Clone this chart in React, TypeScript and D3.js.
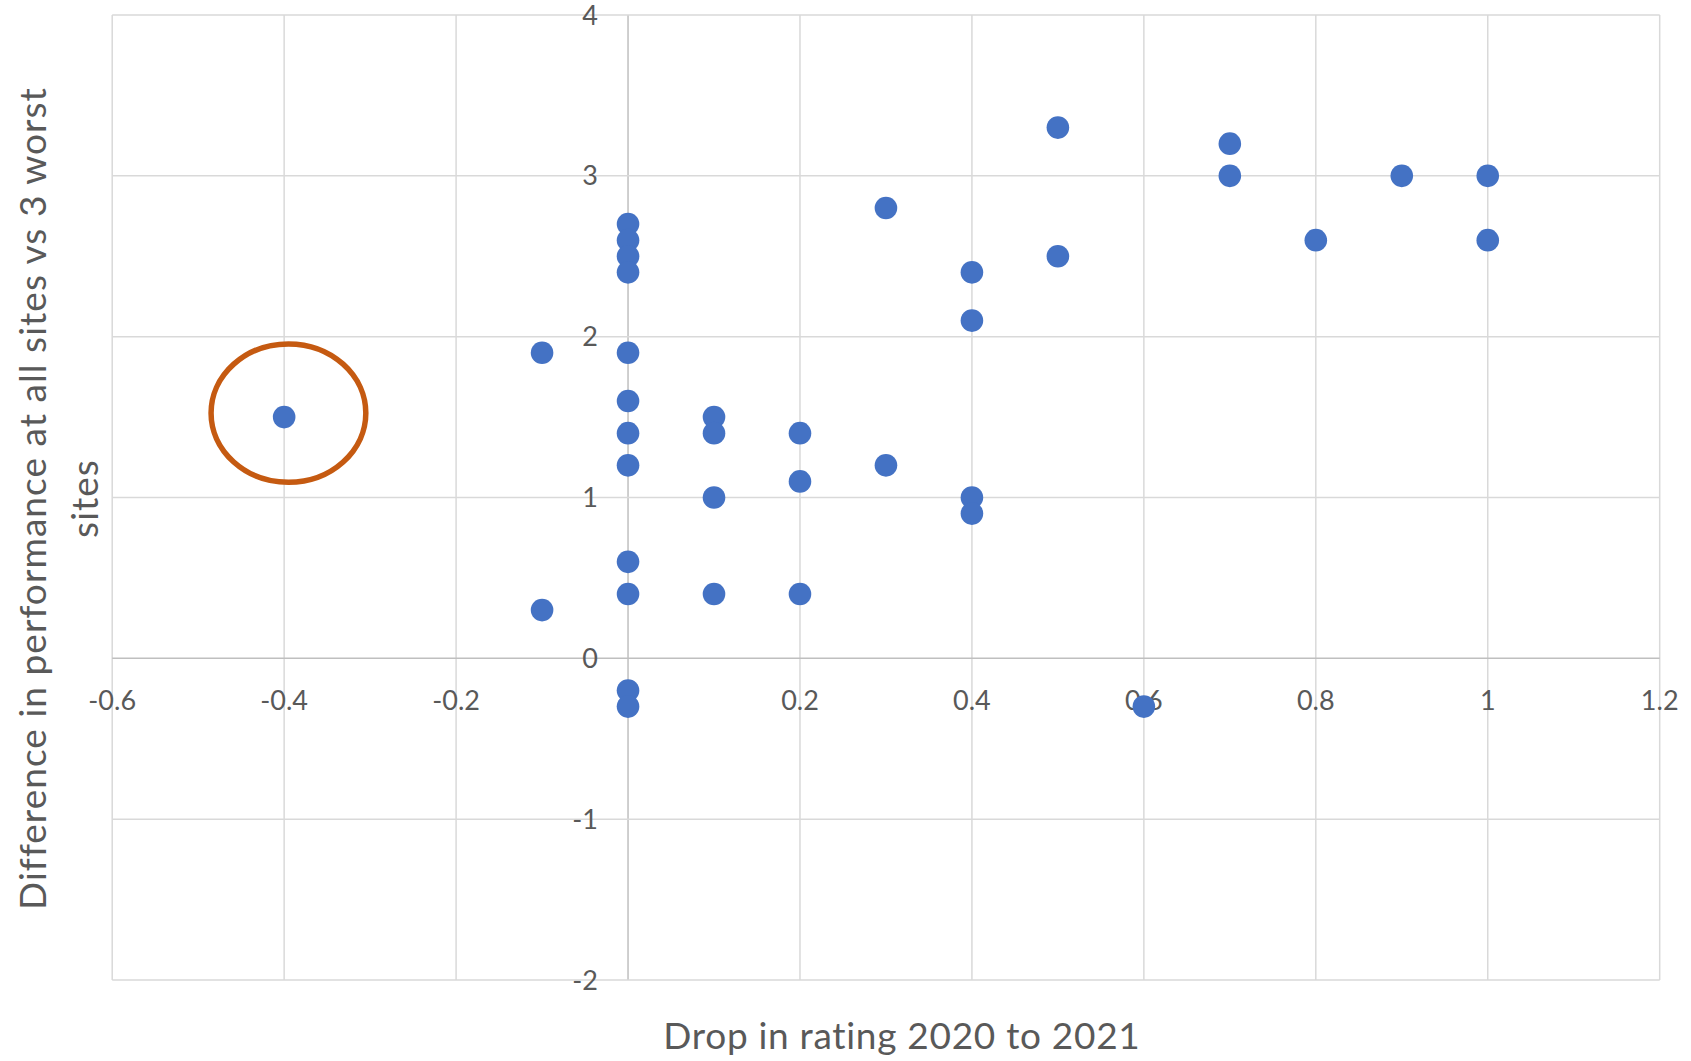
import React from "react";
import * as d3 from "d3";

// ---- data ----
const xValues = [-0.4, -0.1, -0.1, 0, 0, 0, 0, 0, 0, 0, 0, 0, 0, 0, 0, 0.1, 0.1, 0.1, 0.1, 0.2, 0.2, 0.2, 0.3, 0.3, 0.4, 0.4, 0.4, 0.4, 0.5, 0.5, 0.6, 0.7, 0.7, 0.8, 0.9, 1.0, 1.0];
const yValues = [1.5, 1.9, 0.3, 2.7, 2.6, 2.5, 2.4, 1.9, 1.6, 1.4, 1.2, 0.6, 0.4, -0.2, -0.3, 1.5, 1.4, 1.0, 0.4, 1.4, 1.1, 0.4, 2.8, 1.2, 2.4, 2.1, 1.0, 0.9, 3.3, 2.5, -0.3, 3.2, 3.0, 2.6, 3.0, 3.0, 2.6];
const xTicks = [-0.6, -0.4, -0.2, 0, 0.2, 0.4, 0.6, 0.8, 1, 1.2];
const yTicks = [-2, -1, 0, 1, 2, 3, 4];
const xTitle = "Drop in rating 2020 to 2021";
const yTitleLines = ["Difference in performance at all sites vs 3 worst", "sites"];
// highlight ellipse: [centerX, centerY, radiusX, radiusY] in data units
const highlight = [-0.395, 1.525, 0.09, 0.43];

const W = 1691;
const H = 1061;
const left = 112.2;
const right = 1659.7;
const top = 15;
const bottom = 980;

export default function App() {
  const x = d3.scaleLinear().domain([-0.6, 1.2]).range([left, right]);
  const y = d3.scaleLinear().domain([-2, 4]).range([bottom, top]);
  const font = "Lato, 'Open Sans', sans-serif";
  const textColor = "#595959";
  const points = xValues.map((v, i) => [v, yValues[i]]);
  const fmt = (v: number) => String(Math.round(v * 10) / 10);

  return (
    <svg width={W} height={H} style={{ position: "absolute", left: 0, top: 0, background: "#fff" }}>
      <rect x={0} y={0} width={W} height={H} fill="#fff" />
      {/* gridlines */}
      {xTicks.map((t) => (
        <line key={"gx" + t} x1={x(t)} x2={x(t)} y1={top} y2={bottom}
          stroke={t === 0 ? "#BFBFBF" : "#D9D9D9"} strokeWidth={1.5} />
      ))}
      {yTicks.map((t) => (
        <line key={"gy" + t} x1={left} x2={right} y1={y(t)} y2={y(t)}
          stroke={t === 0 ? "#BFBFBF" : "#D9D9D9"} strokeWidth={1.5} />
      ))}
      {/* y tick labels */}
      {yTicks.map((t) => (
        <text key={"ly" + t} x={x(0) - 30} y={y(t) + 9.5} textAnchor="end"
          fontFamily={font} fontSize={27} fill={textColor}>{fmt(t)}</text>
      ))}
      {/* x tick labels */}
      {xTicks.map((t) => (
        <text key={"lx" + t} x={x(t)} y={y(0) + 52} textAnchor="middle"
          fontFamily={font} fontSize={27} fill={textColor}>{fmt(t)}</text>
      ))}
      {/* points */}
      {points.map((p, i) => (
        <circle key={"p" + i} cx={x(p[0])} cy={y(p[1])} r={11.3} fill="#4472C4" />
      ))}
      {/* highlight */}
      <ellipse cx={x(highlight[0])} cy={y(highlight[1])}
        rx={x(highlight[0] + highlight[2]) - x(highlight[0])}
        ry={y(highlight[1] - highlight[3]) - y(highlight[1])}
        fill="none" stroke="#C55A11" strokeWidth={5.5} />
      {/* axis titles */}
      <text x={(left + right) / 2 + 16} y={1049} textAnchor="middle"
        fontFamily={font} fontSize={37} letterSpacing={0.7} fill={textColor}>{xTitle}</text>
      <g transform={`translate(0, ${(top + bottom) / 2 + 1}) rotate(-90)`}>
        {yTitleLines.map((line, i) => (
          <text key={"yt" + i} x={0} y={46 + i * 52} textAnchor="middle"
            fontFamily={font} fontSize={37} letterSpacing={1.05} fill={textColor}>{line}</text>
        ))}
      </g>
    </svg>
  );
}
